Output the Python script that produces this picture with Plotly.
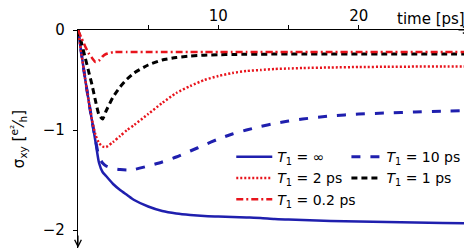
import plotly.graph_objects as go

# time axis [ps]
t = [0, 0.25, 0.5, 0.75, 1, 1.25, 1.5, 1.75, 2, 2.5, 3, 3.5, 4, 5, 6, 7, 8, 9, 10,
     11, 12, 13, 14, 15, 16, 18, 20, 22, 24, 26, 28]

# sigma_xy [e^2/h]
s_inf = [0, -0.24, -0.48, -0.7, -0.91, -1.12, -1.33, -1.42, -1.46, -1.54, -1.60, -1.65, -1.70,
         -1.765, -1.81, -1.835, -1.85, -1.86, -1.865, -1.87, -1.875, -1.88, -1.89, -1.895, -1.90,
         -1.91, -1.915, -1.92, -1.925, -1.93, -1.932]
s_10 = [0, -0.24, -0.48, -0.7, -0.91, -1.1, -1.27, -1.33, -1.36, -1.385, -1.395, -1.40, -1.395,
        -1.36, -1.32, -1.27, -1.21, -1.15, -1.09, -1.04, -1.0, -0.965, -0.935, -0.91, -0.89,
        -0.86, -0.84, -0.83, -0.82, -0.812, -0.805]
s_2 = [0, -0.24, -0.48, -0.7, -0.9, -1.05, -1.13, -1.165, -1.17, -1.12, -1.06, -1.0, -0.95,
       -0.84, -0.73, -0.63, -0.56, -0.5, -0.46, -0.43, -0.41, -0.40, -0.39, -0.385, -0.38,
       -0.375, -0.37, -0.368, -0.366, -0.365, -0.364]
s_1 = [0, -0.13, -0.27, -0.41, -0.55, -0.71, -0.85, -0.89, -0.81, -0.67, -0.57, -0.49, -0.43,
       -0.35, -0.30, -0.275, -0.26, -0.252, -0.247, -0.245, -0.243, -0.242, -0.241, -0.24, -0.24,
       -0.24, -0.24, -0.24, -0.24, -0.24, -0.24]
s_02 = [0, -0.08, -0.16, -0.23, -0.28, -0.32, -0.305, -0.265, -0.24, -0.222, -0.22, -0.22, -0.22,
        -0.22, -0.22, -0.22, -0.22, -0.22, -0.22, -0.22, -0.22, -0.22, -0.22, -0.22, -0.22,
        -0.22, -0.22, -0.22, -0.22, -0.22, -0.22]

labels = ["<i>T</i><sub>1</sub> = ∞", "<i>T</i><sub>1</sub> = 10 ps",
          "<i>T</i><sub>1</sub> = 2 ps", "<i>T</i><sub>1</sub> = 1 ps",
          "<i>T</i><sub>1</sub> = 0.2 ps"]

x_ticks = [5, 10, 15, 20]
x_ticktext = ["", "10", "", "20"]
y_ticks = [-2, -1, 0]

BLUE = "#1f1fae"
RED = "#e8141c"
BLACK = "#000000"

fig = go.Figure()
fig.add_trace(go.Scatter(x=t, y=s_inf, mode="lines", name=labels[0], legend="legend",
                         line=dict(color=BLUE, width=2.5, shape="spline", smoothing=0.6)))
fig.add_trace(go.Scatter(x=t, y=s_10, mode="lines", name=labels[1], legend="legend2",
                         line=dict(color=BLUE, width=3, dash="9px,10px", shape="spline", smoothing=0.6)))
fig.add_trace(go.Scatter(x=t, y=s_2, mode="lines", name=labels[2], legend="legend",
                         line=dict(color=RED, width=2.5, dash="2px,2px", shape="spline", smoothing=0.6)))
fig.add_trace(go.Scatter(x=t, y=s_1, mode="lines", name=labels[3], legend="legend2",
                         line=dict(color=BLACK, width=3, dash="6px,4px", shape="spline", smoothing=0.6)))
fig.add_trace(go.Scatter(x=t, y=s_02, mode="lines", name=labels[4], legend="legend",
                         line=dict(color=RED, width=2.5, dash="7px,3px,2px,3px", shape="spline", smoothing=0.6)))

FONT = "DejaVu Sans"
leg_common = dict(font=dict(family=FONT, size=14, color="black"), bgcolor="rgba(0,0,0,0)",
                  xanchor="left", yanchor="top", itemclick=False)

# the page adds an 8px body margin, so the figure is 8px smaller and margins reduced
fig.update_layout(
    width=464, height=243,
    margin=dict(l=70, r=1, t=22, b=3),
    paper_bgcolor="white", plot_bgcolor="white",
    font=dict(family=FONT, size=15, color="black"),
    showlegend=True,
    legend=dict(x=0.39, y=0.49, itemwidth=36, **leg_common),
    legend2=dict(x=0.683, y=0.49, **leg_common),
    xaxis=dict(range=[0, 28], side="top", showline=True, linecolor="black", linewidth=1.2,
               automargin=False,
               showgrid=False, zeroline=False, tickmode="array", tickvals=x_ticks,
               ticktext=x_ticktext, ticks="outside", ticklen=4, tickwidth=1.2,
               tickcolor="black", tickfont=dict(size=15), ticklabelstandoff=-2),
    yaxis=dict(range=[-2.18, 0], showline=True, linecolor="black", linewidth=1.2,
               automargin=False,
               showgrid=False, zeroline=False, tickmode="array", tickvals=y_ticks,
               ticks="outside", ticklen=4, tickwidth=1.2, tickcolor="black",
               tickfont=dict(size=15), ticklabelstandoff=5,
               title=dict(text="σ<sub>xy</sub> [<sup>e²</sup>⁄<sub>h</sub>]",
                          font=dict(size=15), standoff=16)),
    xaxis2=dict(overlaying="x", matches="x", side="top", anchor="y", showline=False,
                automargin=False,
                showgrid=False, zeroline=False, tickmode="array", tickvals=x_ticks,
                showticklabels=False, ticks="inside", ticklen=4, tickwidth=1.2, tickcolor="black"),
    yaxis2=dict(overlaying="y", matches="y", side="left", anchor="x", showline=False,
                automargin=False,
                showgrid=False, zeroline=False, tickmode="array", tickvals=y_ticks,
                showticklabels=False, ticks="inside", ticklen=4, tickwidth=1.2, tickcolor="black"),
)

# axis label for time and arrowheads
fig.add_annotation(x=1, y=1, xref="paper", yref="paper", xanchor="right", yanchor="bottom",
                   text="time [ps]", showarrow=False, font=dict(size=15), yshift=0, xshift=-4)
fig.add_annotation(x=28, y=0, xref="x", yref="y", ax=-14, ay=0, text="", showarrow=True,
                   arrowhead=5, arrowsize=1.1, arrowwidth=1.2, arrowcolor="black")
fig.add_annotation(x=0, y=-2.18, xref="x", yref="y", ax=0, ay=-14, text="", showarrow=True,
                   arrowhead=5, arrowsize=1.1, arrowwidth=1.2, arrowcolor="black")

fig.write_html("out.html")
